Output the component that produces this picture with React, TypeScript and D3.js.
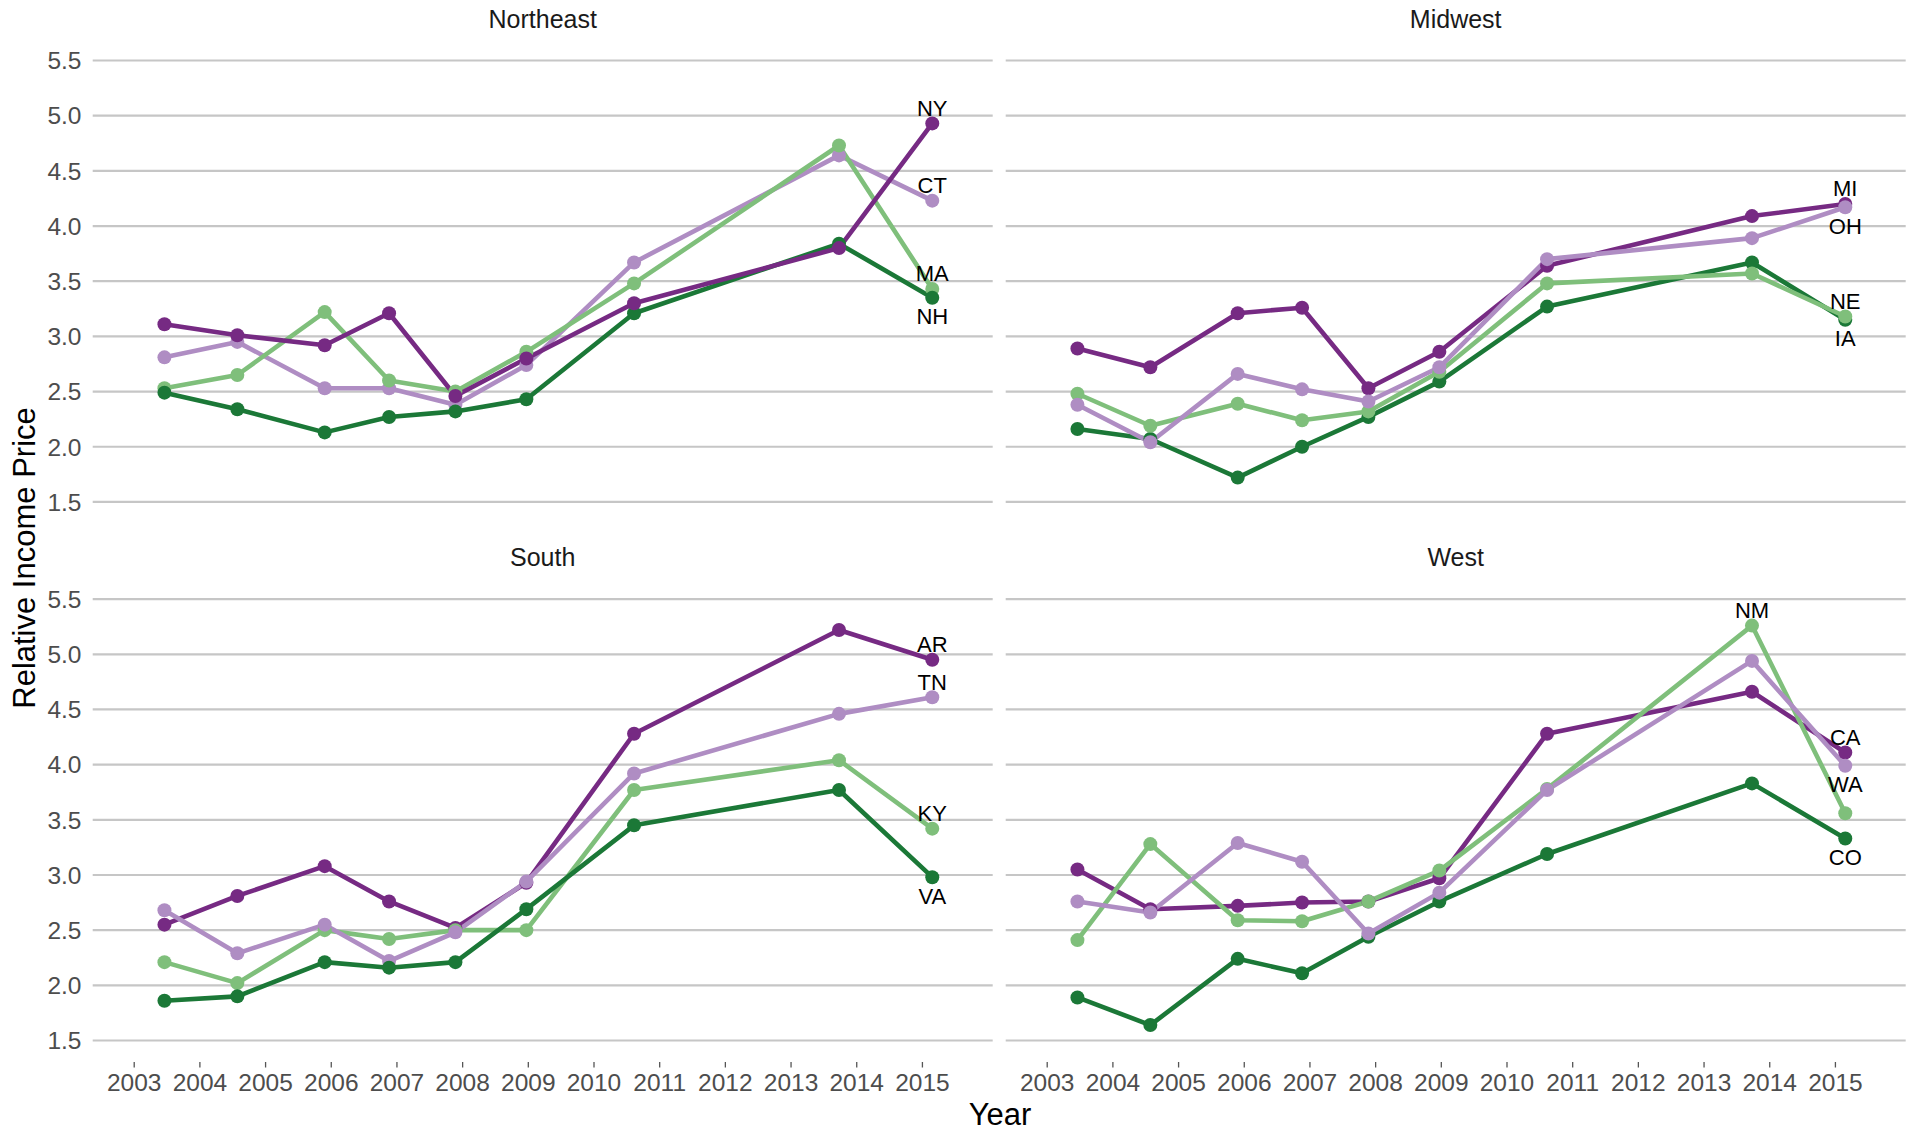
import React from "react";
import * as d3 from "d3";

// Survey periods (decimal years) shared by every state
const years = [2003.46, 2004.57, 2005.9, 2006.88, 2007.89, 2008.97, 2010.61, 2013.73, 2015.15];
const yearTicks = d3.range(2003, 2016);
const priceTicks = [1.5, 2.0, 2.5, 3.0, 3.5, 4.0, 4.5, 5.0, 5.5];
const regions = ["Northeast", "Midwest", "South", "West"];

// States per region, ordered from highest to lowest final value
const northeastStates = ["NY", "CT", "MA", "NH"];
const northeastValues = [
  [3.11, 3.01, 2.92, 3.21, 2.46, 2.80, 3.30, 3.80, 4.93],
  [2.81, 2.95, 2.53, 2.53, 2.38, 2.74, 3.67, 4.64, 4.23],
  [2.53, 2.65, 3.22, 2.60, 2.50, 2.86, 3.48, 4.73, 3.43],
  [2.49, 2.34, 2.13, 2.27, 2.32, 2.43, 3.21, 3.84, 3.35],
];
const northeastLabelSides = ["above", "above", "above", "below"];
const northeastLabelAt = [8, 8, 8, 8];

const midwestStates = ["MI", "OH", "NE", "IA"];
const midwestValues = [
  [2.89, 2.72, 3.21, 3.26, 2.53, 2.86, 3.64, 4.09, 4.20],
  [2.38, 2.04, 2.66, 2.52, 2.41, 2.72, 3.70, 3.89, 4.17],
  [2.48, 2.19, 2.39, 2.24, 2.32, 2.68, 3.48, 3.57, 3.18],
  [2.16, 2.07, 1.72, 2.00, 2.27, 2.59, 3.27, 3.67, 3.15],
];
const midwestLabelSides = ["above", "below", "above", "below"];
const midwestLabelAt = [8, 8, 8, 8];

const southStates = ["AR", "TN", "KY", "VA"];
const southValues = [
  [2.55, 2.81, 3.08, 2.76, 2.52, 2.93, 4.28, 5.22, 4.95],
  [2.68, 2.29, 2.55, 2.22, 2.48, 2.94, 3.92, 4.46, 4.61],
  [2.21, 2.02, 2.50, 2.42, 2.50, 2.50, 3.77, 4.04, 3.42],
  [1.86, 1.90, 2.21, 2.16, 2.21, 2.69, 3.45, 3.77, 2.98],
];
const southLabelSides = ["above", "above", "above", "below"];
const southLabelAt = [8, 8, 8, 8];

const westStates = ["CA", "WA", "NM", "CO"];
const westValues = [
  [3.05, 2.69, 2.72, 2.75, 2.76, 2.97, 4.28, 4.66, 4.11],
  [2.76, 2.66, 3.29, 3.12, 2.47, 2.84, 3.77, 4.94, 3.99],
  [2.41, 3.28, 2.59, 2.58, 2.76, 3.04, 3.78, 5.26, 3.56],
  [1.89, 1.64, 2.24, 2.11, 2.44, 2.76, 3.19, 3.83, 3.33],
];
const westLabelSides = ["above", "below", "above", "below"];
const westLabelAt = [8, 8, 7, 8];

// PRGn colours by rank within a region
const palette = ["#762A83", "#AF8DC3", "#7FBF7B", "#1B7837"];

const regionStates = [northeastStates, midwestStates, southStates, westStates];
const regionValues = [northeastValues, midwestValues, southValues, westValues];
const regionLabelSides = [northeastLabelSides, midwestLabelSides, southLabelSides, westLabelSides];
const regionLabelAt = [northeastLabelAt, midwestLabelAt, southLabelAt, westLabelAt];

const W = 1915;
const H = 1132;
const FONT = "'Liberation Sans', Arial, Helvetica, sans-serif";
const colLeft = [92.7, 1005.7];
const panelWidth = 900;
const rowRange: [number, number][] = [
  [501.9, 60.5],
  [1040.5, 599.1],
];

function Panel({ idx }: { idx: number }) {
  const col = idx % 2;
  const row = Math.floor(idx / 2);
  const x = d3.scaleLinear().domain([2002.368, 2016.07]).range([colLeft[col], colLeft[col] + panelWidth]);
  const y = d3.scaleLinear().domain([1.5, 5.5]).range(rowRange[row]);
  const states = regionStates[idx];
  const values = regionValues[idx];
  const sides = regionLabelSides[idx];
  const at = regionLabelAt[idx];
  const line = d3
    .line<number>()
    .x((_, i) => x(years[i]))
    .y((v) => y(v));
  // series are layered in alphabetical order of state code
  const order = d3.range(states.length).sort((a, b) => d3.ascending(states[a], states[b]));
  const [x0, x1] = x.range();
  const titleY = y(5.5) - 33;

  return (
    <g>
      <text x={(x0 + x1) / 2} y={titleY} textAnchor="middle" fontSize={25} fill="#1A1A1A" fontFamily={FONT}>
        {regions[idx]}
      </text>
      {priceTicks.map((t) => (
        <line key={t} x1={x0} x2={x1} y1={y(t)} y2={y(t)} stroke="#C6C6C6" strokeWidth={2.2} />
      ))}
      {col === 0 &&
        priceTicks.map((t) => (
          <text key={t} x={81.5} y={y(t) + 8.8} textAnchor="end" fontSize={24.5} fill="#4D4D4D" fontFamily={FONT}>
            {d3.format(".1f")(t)}
          </text>
        ))}
      {row === 1 &&
        yearTicks.map((t) => (
          <g key={t}>
            <line x1={x(t)} x2={x(t)} y1={1062} y2={1067.5} stroke="#555" strokeWidth={1.3} />
            <text x={x(t)} y={1090.8} textAnchor="middle" fontSize={24.5} fill="#4D4D4D" fontFamily={FONT}>
              {t}
            </text>
          </g>
        ))}
      {order.map((s) => (
        <path
          key={states[s]}
          d={line(values[s]) || ""}
          fill="none"
          stroke={palette[s]}
          strokeWidth={4.6}
          strokeLinejoin="round"
          strokeLinecap="round"
        />
      ))}
      {order.map((s) =>
        values[s].map((v, i) => <circle key={states[s] + i} cx={x(years[i])} cy={y(v)} r={7} fill={palette[s]} />)
      )}
      {states.map((st, s) => {
        const i = at[s];
        const py = y(values[s][i]);
        const by = sides[s] === "above" ? py - 7.6 : py + 26.4;
        return (
          <text key={st} x={x(years[i])} y={by} textAnchor="middle" fontSize={22} fill="#000" fontFamily={FONT}>
            {st}
          </text>
        );
      })}
    </g>
  );
}

export default function App() {
  return (
    <svg
      width={W}
      height={H}
      viewBox={`0 0 ${W} ${H}`}
      style={{ position: "absolute", left: 0, top: 0, background: "#fff" }}
    >
      <rect width={W} height={H} fill="#fff" />
      {regions.map((r, i) => (
        <Panel key={r} idx={i} />
      ))}
      <text x={1000} y={1125} textAnchor="middle" fontSize={31} fill="#000" fontFamily={FONT}>
        Year
      </text>
      <text
        transform="translate(35, 558) rotate(-90)"
        textAnchor="middle"
        fontSize={31}
        fill="#000"
        fontFamily={FONT}
      >
        Relative Income Price
      </text>
    </svg>
  );
}
